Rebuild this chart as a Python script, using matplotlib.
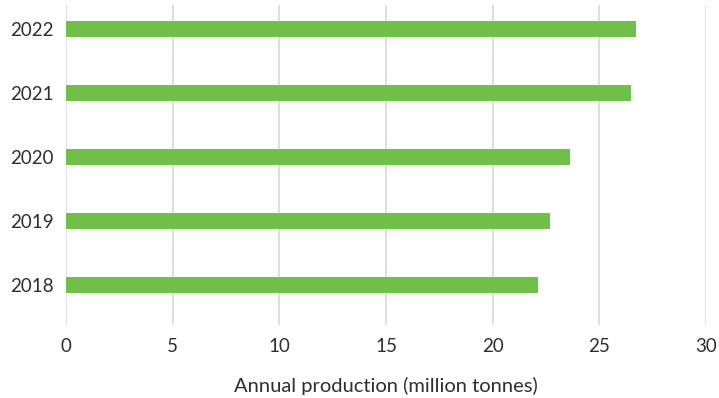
import matplotlib.pyplot as plt

# annual production per year (million tonnes)
years = ["2018", "2019", "2020", "2021", "2022"]
production = [22.13, 22.67, 23.6, 26.49, 26.73]
x_ticks = [0, 5, 10, 15, 20, 25, 30]

plt.rcParams['font.family'] = ['Lato', 'DejaVu Sans']
txt = dict(fontweight='normal', color='#2e2e2e')

fig = plt.figure(figsize=(7.19, 3.98), dpi=100)
ax = fig.add_axes([0.0918, 0.1834, 0.8902, 0.804])

ax.barh(range(len(years)), production, height=0.25, color='#71bf4b', zorder=3)

ax.set_xlim(0, 30)
ax.set_ylim(-0.62, 4.37)
ax.set_xticks(x_ticks)
ax.set_xticklabels([str(t) for t in x_ticks], fontsize=13.5, **txt)
ax.set_yticks(range(len(years)))
ax.set_yticklabels(years, fontsize=13.5, **txt)
ax.tick_params(axis='both', length=0)
ax.tick_params(axis='y', pad=9)
ax.tick_params(axis='x', pad=9)

ax.grid(axis='x', color='#dcdcdc', linewidth=1.3, zorder=0)
for s in ax.spines.values():
    s.set_visible(False)

ax.set_xlabel("Annual production (million tonnes)", fontsize=14.5,
              labelpad=16, **txt)

fig.savefig("out.png", dpi=100)
